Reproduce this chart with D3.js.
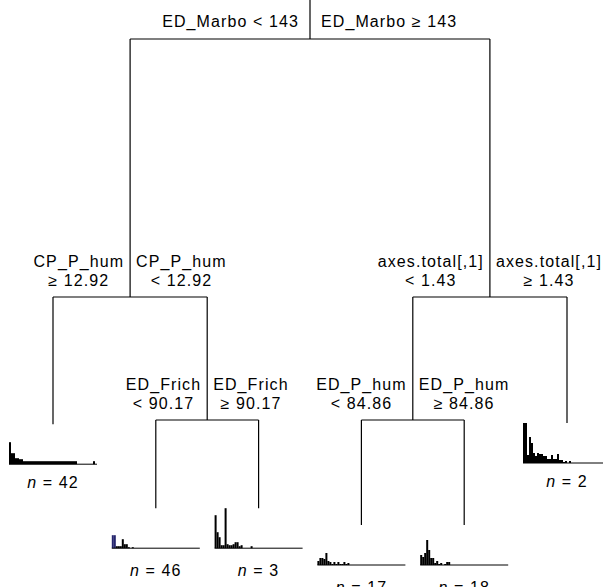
<!DOCTYPE html>
<html>
<head>
<meta charset="utf-8">
<script src="https://cdn.jsdelivr.net/npm/d3@7"></script>
<style>
  body { margin: 0; background: #fff; }
  text { font-family: "Liberation Sans", Arial, sans-serif; font-size: 16px; letter-spacing: 1.1px; fill: #000; }
</style>
</head>
<body>
<div id="chart"></div>
<script>
// split rules (root, then depth-first order)
const splitVars = ["ED_Marbo", "CP_P_hum", "ED_Frich", "axes.total[,1]", "ED_P_hum"];
const leftConds = ["< 143", "≥ 12.92", "< 90.17", "< 1.43", "< 84.86"];
const rightConds = ["≥ 143", "< 12.92", "≥ 90.17", "≥ 1.43", "≥ 84.86"];
// position of each split / leaf on the deviance axis (0 = top)
const splitDepth = [0.065, 0.495, 0.70, 0.495, 0.70];
const leafDepth = [0.707, 0.847, 0.847, 0.875, 0.875, 0.705];
const leafN = [42, 46, 3, 17, 18, 2];

// species bar profiles of each leaf
const barsLeaf1 = [22, 11, 11, 6, 6, 5, 5, 3, 3, 3, 3, 3, 3, 3, 3, 3, 3, 3, 3, 3, 3, 3, 3, 3, 3, 3, 3, 3, 3, 3, 3, 3, 3, 3, 0, 0, 0, 0, 0, 0, 0, 0, 3, 0];
const barsLeaf2 = [13, 13, 2, 2, 2, 9, 4, 4, 1, 0, 1, 0, 0, 0, 0, 0, 0, 0, 0, 0, 0, 0, 0, 0, 0, 0, 0, 0, 0, 0, 0, 0, 0, 0, 0, 0, 0, 0, 0, 0, 0, 0, 0, 0];
const barsLeaf3 = [33, 16, 11, 3, 3, 40, 4, 3, 3, 4, 6, 6, 2, 3, 0, 0, 0, 0, 2, 0, 0, 0, 0, 0, 0, 0, 0, 0, 0, 0, 0, 0, 0, 0, 0, 0, 0, 0, 0, 0, 0, 0, 0, 0];
const barsLeaf4 = [4, 7, 7, 6, 12, 4, 3, 1, 3, 1, 3, 1, 1, 3, 1, 2, 0, 0, 0, 0, 0, 0, 0, 0, 0, 0, 0, 0, 0, 0, 0, 0, 0, 0, 0, 0, 0, 0, 0, 0, 0, 0, 0, 0];
const barsLeaf5 = [10, 8, 12, 25, 15, 7, 7, 2, 4, 1, 2, 0, 1, 3, 3, 0, 0, 0, 0, 0, 0, 0, 0, 0, 0, 0, 0, 0, 0, 0, 0, 0, 0, 0, 0, 0, 0, 0, 0, 0, 0, 0, 0, 0];
const barsLeaf6 = [40, 40, 8, 26, 20, 10, 7, 10, 9, 9, 7, 7, 4, 4, 8, 4, 4, 9, 3, 3, 1, 2, 0, 2, 0, 0, 0, 0, 0, 0, 0, 0, 0, 0, 0, 0, 0, 0, 0, 0, 0, 0, 0, 0];
const leafBars = [barsLeaf1, barsLeaf2, barsLeaf3, barsLeaf4, barsLeaf5, barsLeaf6];

const W = 603, H = 587;

// tree: split index -> [left, right]; leaves as {leaf: i}
const treeData = {
  split: 0, children: [
    { split: 1, children: [{ leaf: 0 }, { split: 2, children: [{ leaf: 1 }, { leaf: 2 }] }] },
    { split: 3, children: [{ split: 4, children: [{ leaf: 3 }, { leaf: 4 }] }, { leaf: 5 }] }
  ]
};
const root = d3.hierarchy(treeData);

const x = d3.scalePoint().domain(d3.range(leafN.length)).range([53, 567]);
const y = d3.scaleLinear().domain([0, 1]).range([0, 600]);
const barH = d3.scaleLinear().domain([0, 40]).range([0, 40]);

root.eachAfter(d => {
  if (d.data.leaf !== undefined) {
    d.x = x(d.data.leaf);
    d.y = y(leafDepth[d.data.leaf]);
  } else {
    d.x = d3.mean(d.children, c => c.x);
    d.y = y(splitDepth[d.data.split]);
  }
});

const svg = d3.select("#chart").append("svg")
  .attr("width", W).attr("height", H);

const lines = svg.append("g")
  .attr("stroke", "#000").attr("stroke-width", 1.2).attr("fill", "none");

// root stem
lines.append("line").attr("x1", root.x).attr("x2", root.x).attr("y1", 0).attr("y2", root.y);

root.descendants().filter(d => d.children).forEach(d => {
  lines.append("line")
    .attr("x1", d.children[0].x).attr("x2", d.children[1].x)
    .attr("y1", d.y).attr("y2", d.y);
  d.children.forEach(c => {
    lines.append("line").attr("x1", c.x).attr("x2", c.x).attr("y1", d.y).attr("y2", c.y);
  });
});

// split labels
const labels = svg.append("g");
root.descendants().filter(d => d.children).forEach(d => {
  const s = d.data.split;
  if (d.depth === 0) {
    labels.append("text").attr("x", d.x - 11).attr("y", d.y - 12)
      .attr("text-anchor", "end").text(splitVars[s] + " " + leftConds[s]);
    labels.append("text").attr("x", d.x + 11).attr("y", d.y - 12)
      .attr("text-anchor", "start").text(splitVars[s] + " " + rightConds[s]);
    return;
  }
  [[leftConds[s], -1], [rightConds[s], 1]].forEach(([cond, side]) => {
    const g = labels.append("g");
    const t1 = g.append("text").attr("y", d.y - 30).attr("text-anchor", "middle").text(splitVars[s]);
    const t2 = g.append("text").attr("y", d.y - 11).attr("text-anchor", "middle").text(cond);
    const w = Math.max(t1.node().getComputedTextLength(), t2.node().getComputedTextLength());
    const cx = d.x + side * (6 + w / 2);
    t1.attr("x", cx);
    t2.attr("x", cx);
  });
});

// leaf bar profiles
root.leaves().forEach(d => {
  const i = d.data.leaf;
  const bars = leafBars[i];
  const bx = d3.scaleBand().domain(d3.range(bars.length)).range([d.x - 44, d.x + 44]);
  const base = d.y + 40;
  const g = svg.append("g");
  g.selectAll("rect").data(bars).join("rect")
    .attr("x", (v, j) => bx(j))
    .attr("width", bx.bandwidth())
    .attr("y", v => base - barH(v))
    .attr("height", v => barH(v))
    .attr("fill", (v, j) => (i === 1 && j < 2) ? "#25256e" : "#000");
  g.append("line")
    .attr("x1", d.x - 44).attr("x2", d.x + 44)
    .attr("y1", base).attr("y2", base)
    .attr("stroke", "#000").attr("stroke-width", 1);
  const t = g.append("text").attr("x", d.x).attr("y", base + (d.depth === 2 ? 24 : 28))
    .attr("text-anchor", "middle");
  t.append("tspan").attr("font-style", "italic").text("n");
  t.append("tspan").text(" = " + leafN[i]);
});
</script>
</body>
</html>
